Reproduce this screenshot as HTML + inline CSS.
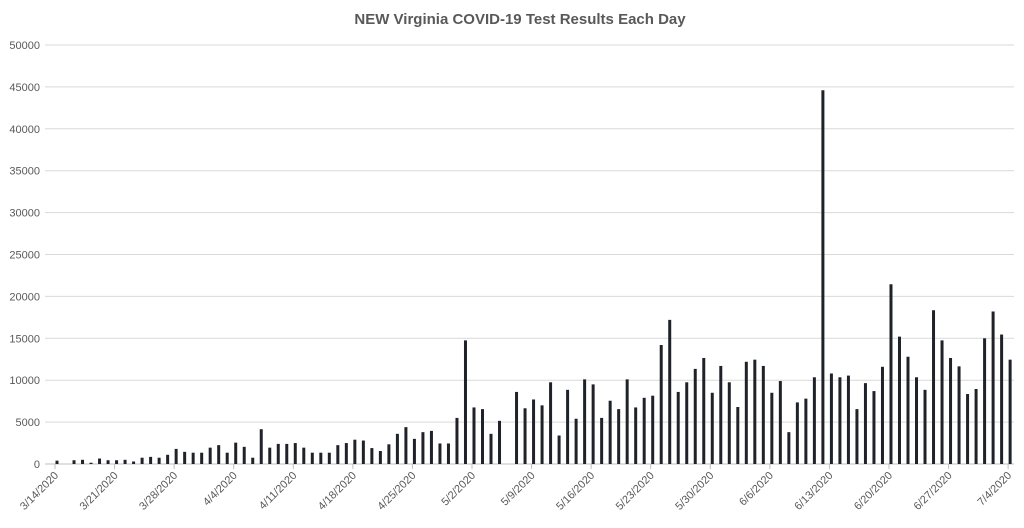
<!DOCTYPE html>
<html><head><meta charset="utf-8"><style>
body{margin:0;background:#fff;}
svg{display:block;font-family:"Liberation Sans",sans-serif;}
</style></head><body>
<svg id="chart" width="1024" height="528" viewBox="0 0 1024 528">
<text x="520" y="24" text-anchor="middle" font-size="15" font-weight="bold" fill="#595959">NEW Virginia COVID-19 Test Results Each Day</text>
<g id="grid"></g><g id="bars"></g><g id="xlabels"></g><g id="ylabels"></g>
</svg>
<script>
const startDate = new Date(2020, 2, 14);
const yTicks = [0,5000,10000,15000,20000,25000,30000,35000,40000,45000,50000];
const newTests = [400,0,450,500,150,650,450,450,500,300,750,850,750,1100,1800,1450,1350,1350,1950,2250,1350,2550,2050,750,4150,1950,2400,2400,2500,1950,1350,1350,1350,2250,2500,2900,2800,1900,1550,2350,3600,4400,3000,3800,3950,2450,2450,5500,14750,6750,6550,3600,5150,0,8600,6650,7700,7000,9750,3400,8850,5400,10100,9500,5500,7550,6550,10100,6750,7900,8150,14200,17200,8600,9750,11350,12650,8500,11700,9750,6800,12200,12450,11700,8500,9900,3800,7350,7800,10350,44600,10800,10350,10550,6550,9650,8700,11600,21450,15200,12800,10350,8850,18350,14750,12650,11650,8350,8950,15000,18200,15450,12450];
const NS="http://www.w3.org/2000/svg";
const y0=464, yTop=45, yMax=50000;
const y = v => y0 - v/yMax*(y0-yTop);
const x = i => 57 + i*8.51;
const mk=(t,a,p)=>{const e=document.createElementNS(NS,t);for(const k in a)e.setAttribute(k,a[k]);p.appendChild(e);return e;};
const grid=document.getElementById('grid'), yl=document.getElementById('ylabels');
yTicks.forEach(v=>{
  const l=mk('line',{x1:45,x2:1014,y1:y(v),y2:y(v),stroke:v===0?'#bfbfbf':'#d9d9d9','stroke-width':1},grid);
  
  
  const t=mk('text',{x:40,y:y(v)+4,'text-anchor':'end','font-size':11,fill:'#595959'},yl);
  t.textContent=v;
  
  
});
const bars=document.getElementById('bars');
newTests.forEach((v,i)=>{
  if(v<=0)return;
  const r=mk('rect',{x:x(i)-1.5,y:y(v),width:3,height:y0-y(v),fill:'#1f2329'},bars);
  
  
});
const xl=document.getElementById('xlabels');
for(let i=0;i<newTests.length;i+=7){
  const d=new Date(startDate);d.setDate(d.getDate()+i);
  const lab=(d.getMonth()+1)+'/'+d.getDate()+'/2020';
  const tk=mk('line',{x1:x(i)-2,x2:x(i)-2,y1:464,y2:469,stroke:'#bfbfbf'},grid);
  
  
  const t=mk('text',{x:x(i)+2,y:476,'text-anchor':'end','font-size':11,fill:'#595959',transform:`rotate(-45 ${x(i)+2} 476)`},xl);
  t.textContent=lab;
  
  
}
</script>
</body></html>
